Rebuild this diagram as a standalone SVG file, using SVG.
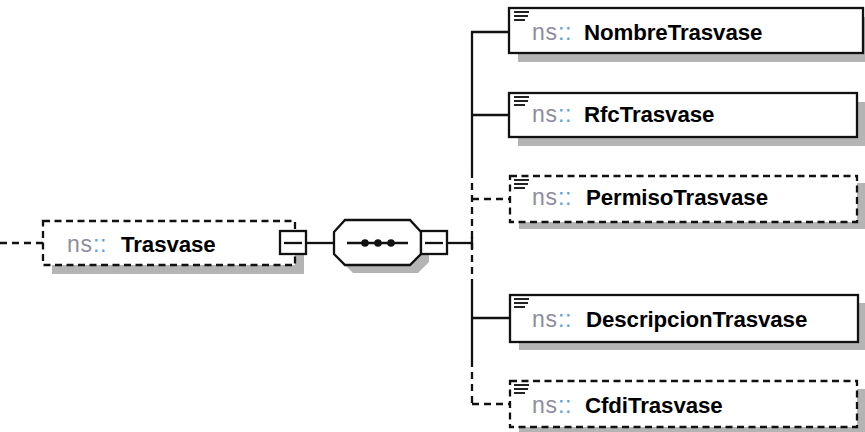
<svg xmlns="http://www.w3.org/2000/svg" width="865" height="432" viewBox="0 0 865 432">
<style>
.shadow{fill:#b4b4b4;stroke:none}
.box{fill:#fff;stroke:#111;stroke-width:2.3}
.opt{fill:#fff;stroke:#111;stroke-width:2.3;stroke-dasharray:7 4.5}
.ln{stroke:#111;stroke-width:2.3;fill:none}
.dln{stroke:#111;stroke-width:2.3;fill:none;stroke-dasharray:7 5}
.ico{stroke:#222;stroke-width:2}
.ns{font-family:"Liberation Sans",Arial,sans-serif;font-size:23px;letter-spacing:0.8px}
.nsp{fill:#8e8c9e}
.col{fill:#5aa5e0}
.nm{font-family:"Liberation Sans",Arial,sans-serif;font-size:22.3px;font-weight:bold;fill:#000;letter-spacing:-0.1px}
</style>
<defs>
<g id="icon">
<line class="ico" x1="0" y1="0" x2="15" y2="0"/>
<line class="ico" x1="0" y1="4" x2="14" y2="4"/>
<line class="ico" x1="0" y1="8" x2="11" y2="8"/>
</g>
</defs>

<g id="connectors">
<line class="dln" x1="0" y1="243" x2="43" y2="243"/>
<line class="ln" x1="306" y1="243" x2="334" y2="243"/>
<line class="ln" x1="447" y1="243" x2="472" y2="243"/>
<line class="ln" x1="472" y1="237" x2="472" y2="249"/>
<line class="ln" x1="472" y1="31" x2="472" y2="171"/>
<line class="dln" x1="472" y1="171" x2="472" y2="283"/>
<line class="ln" x1="472" y1="283" x2="472" y2="360"/>
<line class="dln" x1="472" y1="360" x2="472" y2="405"/>
<line class="ln" x1="471" y1="32" x2="509" y2="32"/>
<line class="ln" x1="471" y1="115" x2="509" y2="115"/>
<line class="dln" x1="472" y1="199" x2="510" y2="199"/>
<line class="ln" x1="471" y1="318" x2="510" y2="318"/>
<line class="dln" x1="472" y1="404" x2="510" y2="404"/>
</g>

<g id="Trasvase">
<rect class="shadow" x="52" y="230" width="252" height="44"/>
<rect class="opt" x="43" y="221" width="252" height="44"/>
<text class="ns" x="67" y="252"><tspan class="nsp">ns</tspan><tspan class="col">::</tspan></text>
<text class="nm" x="121" y="252">Trasvase</text>
<rect class="box" x="280" y="231" width="26" height="23"/>
<line class="ln" x1="284" y1="243" x2="302" y2="243"/>
</g>

<g id="sequence">
<polygon class="shadow" points="342,240 353,228 418,228 429,240 429,262 418,273 353,273 342,262"/>
<polygon class="box" points="334,232 345,220 410,220 421,232 421,254 410,265 345,265 334,254"/>
<line class="ln" x1="347" y1="243" x2="408" y2="243"/>
<circle cx="365" cy="243" r="3.8" fill="#111"/>
<circle cx="378" cy="243" r="3.8" fill="#111"/>
<circle cx="391" cy="243" r="3.8" fill="#111"/>
<rect class="box" x="421" y="231" width="26" height="23"/>
<line class="ln" x1="425" y1="243" x2="443" y2="243"/>
</g>

<g id="NombreTrasvase">
<rect class="shadow" x="518" y="17" width="354" height="45"/>
<rect class="box" x="509" y="8" width="354" height="45"/>
<use href="#icon" x="514" y="12"/>
<text class="ns" x="532" y="40"><tspan class="nsp">ns</tspan><tspan class="col">::</tspan></text>
<text class="nm" x="584" y="40">NombreTrasvase</text>
</g>

<g id="RfcTrasvase">
<rect class="shadow" x="518" y="102" width="348" height="44"/>
<rect class="box" x="509" y="93" width="348" height="44"/>
<use href="#icon" x="514" y="97"/>
<text class="ns" x="532" y="122"><tspan class="nsp">ns</tspan><tspan class="col">::</tspan></text>
<text class="nm" x="584" y="122">RfcTrasvase</text>
</g>

<g id="PermisoTrasvase">
<rect class="shadow" x="519" y="183" width="347" height="46"/>
<rect class="opt" x="510" y="176" width="347" height="46"/>
<use href="#icon" x="514" y="180"/>
<text class="ns" x="532" y="205"><tspan class="nsp">ns</tspan><tspan class="col">::</tspan></text>
<text class="nm" x="586" y="205">PermisoTrasvase</text>
</g>

<g id="DescripcionTrasvase">
<rect class="shadow" x="519" y="303" width="348" height="47"/>
<rect class="box" x="510" y="295" width="348" height="47"/>
<use href="#icon" x="514" y="299"/>
<text class="ns" x="532" y="327"><tspan class="nsp">ns</tspan><tspan class="col">::</tspan></text>
<text class="nm" x="586" y="327">DescripcionTrasvase</text>
</g>

<g id="CfdiTrasvase">
<rect class="shadow" x="519" y="389" width="347" height="46"/>
<rect class="opt" x="510" y="381" width="347" height="46"/>
<use href="#icon" x="514" y="385"/>
<text class="ns" x="532" y="413"><tspan class="nsp">ns</tspan><tspan class="col">::</tspan></text>
<text class="nm" x="585" y="413">CfdiTrasvase</text>
</g>
</svg>
